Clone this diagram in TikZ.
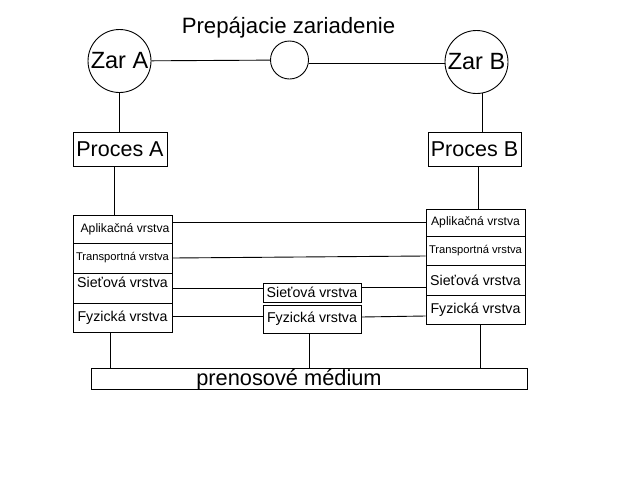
\documentclass[tikz,border=0pt]{standalone}
\usepackage{fontspec}
\setmainfont{Liberation Sans}
\usetikzlibrary{calc}

\begin{document}
\begin{tikzpicture}[x=1pt,y=-1pt,line width=0.9pt,
  dev/.style={draw, circle, inner sep=0pt, minimum size=63pt, font=\fontsize{23.5}{26}\selectfont},
  proc/.style={draw, inner sep=0pt, minimum height=34pt, font=\fontsize{21.5}{24}\selectfont},
  layer/.style={draw, inner sep=0pt, minimum width=99pt},
  midlayer/.style={draw, inner sep=0pt, minimum width=98pt},
  big/.style={font=\fontsize{14.2}{16}\selectfont},
  small/.style={font=\fontsize{12.2}{14}\selectfont},
  tiny/.style={font=\fontsize{11.2}{13}\selectfont}]

            \useasboundingbox (0,0) rectangle (640,480);

            % devices and the switch between them
            \node[font=\fontsize{22.2}{24}\selectfont, anchor=base] (title) at (288.5,33) {Prepájacie zariadenie};
            \node[dev] (zarA) at (119.5,61) {Zar A};
            \node[draw, circle, inner sep=0pt, minimum size=38pt] (sw) at (289.5,60) {};
            \node[dev] (zarB) at (476.5,62) {Zar B};

            % processes
            \node[proc, minimum width=94pt] (procA) at (120,149) {Proces A};
            \node[proc, minimum width=93pt] (procB) at (474.5,149) {Proces B};

            % layers of A
            \node[layer, small, minimum height=28pt] (apA) at (122.5,229) {\hspace{5pt}Aplikačná vrstva};
            \node[layer, tiny, minimum height=30pt] (trA) at (122.5,258) {Transportná vrstva};
            \node[layer, big, minimum height=30pt, text depth=12pt] (siA) at (122.5,288) {Sieťová vrstva\hspace{4pt}};
            \node[layer, big, minimum height=29pt] (fyA) at (122.5,317.5) {Fyzická vrstva\hspace{4pt}};

            % layers of B
            \node[layer, small, minimum height=27.5pt] (apB) at (475.5,222.75) {Aplikačná vrstva};
            \node[layer, tiny, minimum height=29pt] (trB) at (475.5,251) {Transportná vrstva};
            \node[layer, big, minimum height=29.5pt] (siB) at (475.5,280.25) {Sieťová vrstva};
            \node[layer, big, minimum height=29.5pt] (fyB) at (475.5,309.75) {Fyzická vrstva};

            % layers of the switch
            \node[midlayer, big, minimum height=19pt] (siM) at (312,292.5) {Sieťová vrstva\hspace{8pt}};
            \node[midlayer, big, minimum height=28pt] (fyM) at (312,319) {Fyzická vrstva\hspace{8pt}};

            % medium
            \node[draw, inner sep=0pt, minimum width=436pt, minimum height=21pt,
                  label={[font=\fontsize{21.8}{24}\selectfont, xshift=-20pt, yshift=-1.5pt]center:prenosové médium}] (medium) at (309,378.5) {};

            % connectors
            \draw (zarA) -- (sw);
            \draw (sw.-9) -- (sw.-9 -| zarB.west);
            \draw (zarA.south) -- (zarA.south |- procA.north);
            \draw (zarB.-80) -- (zarB.-80 |- procB.north);
            \draw ([xshift=-6pt]procA.south) -- ([xshift=-6pt]procA.south |- apA.north);
            \draw ([xshift=3.5pt]procB.south) -- ([xshift=3.5pt]procB.south |- apB.north);

            \draw (apA.east |- apB.west) -- (apB.west);
            \draw (trA.east) -- ([yshift=-5pt]trB.west);
            \draw (siA.east) -- (siA.east -| siM.west);
            \draw ([yshift=5.5pt]siM.east) -- ([yshift=5.5pt]siM.east -| siB.west);
            \draw ([yshift=0.8pt]fyA.east) -- ([yshift=0.8pt]fyA.east -| fyM.west);
            \draw ([yshift=2pt]fyM.east) -- ([yshift=-6.25pt]fyB.west);

            \draw ([xshift=-12.5pt]fyA.south) -- ([xshift=-12.5pt]fyA.south |- medium.north);
            \draw ([xshift=-3pt]fyM.south) -- ([xshift=-3pt]fyM.south |- medium.north);
            \draw ([xshift=4.5pt]fyB.south) -- ([xshift=4.5pt]fyB.south |- medium.north);
        \end{tikzpicture}
\end{document}
